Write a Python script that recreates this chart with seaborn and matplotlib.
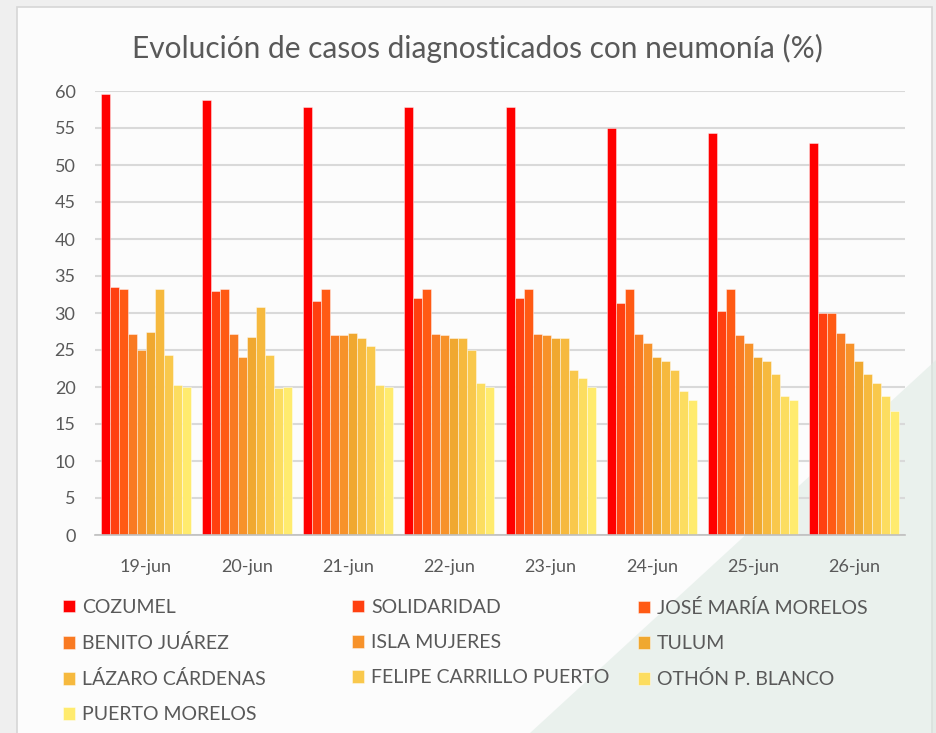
import pandas as pd
import matplotlib.pyplot as plt
import seaborn as sns
from matplotlib.patches import Rectangle, Polygon

fechas = ['19-jun', '20-jun', '21-jun', '22-jun', '23-jun', '24-jun', '25-jun', '26-jun']
municipios = ['COZUMEL', 'SOLIDARIDAD', 'JOSÉ MARÍA MORELOS', 'BENITO JUÁREZ', 'ISLA MUJERES',
              'TULUM', 'LÁZARO CÁRDENAS', 'FELIPE CARRILLO PUERTO', 'OTHÓN P. BLANCO', 'PUERTO MORELOS']

cozumel = [59.6, 58.8, 57.9, 57.9, 57.9, 55.0, 54.3, 53.0]
solidaridad = [33.5, 33.0, 31.6, 32.0, 32.0, 31.3, 30.3, 30.0]
jose_maria_morelos = [33.3, 33.3, 33.3, 33.3, 33.3, 33.3, 33.3, 30.0]
benito_juarez = [27.1, 27.1, 27.0, 27.1, 27.1, 27.1, 27.0, 27.3]
isla_mujeres = [25.0, 24.0, 27.0, 27.0, 27.0, 25.9, 26.0, 26.0]
tulum = [27.5, 26.8, 27.3, 26.6, 26.6, 24.0, 24.0, 23.5]
lazaro_cardenas = [33.3, 30.8, 26.6, 26.6, 26.6, 23.5, 23.5, 21.7]
felipe_carrillo_puerto = [24.3, 24.3, 25.6, 25.0, 22.3, 22.3, 21.7, 20.5]
othon_p_blanco = [20.3, 19.9, 20.3, 20.6, 21.2, 19.4, 18.8, 18.8]
puerto_morelos = [20.0, 20.0, 20.0, 20.0, 20.0, 18.3, 18.3, 16.7]

series = [cozumel, solidaridad, jose_maria_morelos, benito_juarez, isla_mujeres,
          tulum, lazaro_cardenas, felipe_carrillo_puerto, othon_p_blanco, puerto_morelos]

colores = ['#FF0000', '#FF4010', '#FF5A14', '#F97A22', '#F7922A',
           '#F0A830', '#F6B93E', '#F9C84C', '#FCDD60', '#FFEB6E']

rows = []
for nombre, valores in zip(municipios, series):
    for fecha, v in zip(fechas, valores):
        rows.append({'fecha': fecha, 'municipio': nombre, 'valor': v})
df = pd.DataFrame(rows)

sns.set_style('white')
plt.rcParams['font.family'] = ['Lato', 'DejaVu Sans']

fig = plt.figure(figsize=(9.36, 7.33), dpi=100, facecolor='#EFEFEF')

# panel background, drawn behind the axes
fig.patches.append(Rectangle((17 / 936, -0.01), 915 / 936, 1.01 - 7 / 733, transform=fig.transFigure,
                             facecolor='#FCFCFC', edgecolor='#D6D6D6', lw=1.2, zorder=-2))
fig.patches.append(Polygon([(1.0, 1 - 360 / 733), (1.0, 0), (530 / 936, 0)], closed=True,
                           transform=fig.transFigure, facecolor='#DCE9E2', alpha=0.55,
                           edgecolor='none', zorder=-1))

ax = fig.add_axes([95 / 936, 1 - 535 / 733, 810 / 936, 444 / 733])
ax.set_facecolor('none')

sns.barplot(data=df, x='fecha', y='valor', hue='municipio', hue_order=municipios,
            palette=colores, width=0.89, gap=0, ax=ax, errorbar=None, saturation=1,
            linewidth=0.6, edgecolor='#FFFFFF80')

ax.set_ylim(0, 60)
ax.set_yticks(range(0, 61, 5))
ax.yaxis.grid(True, color='#D9D9D9', lw=1.5)
ax.set_axisbelow(True)
ax.set_xlim(-0.5, len(fechas) - 0.5)
for s in ['top', 'right', 'left']:
    ax.spines[s].set_visible(False)
ax.spines['bottom'].set_color('#BFBFBF')
ax.spines['bottom'].set_linewidth(1.2)
ax.set_xlabel('')
ax.set_ylabel('')
ax.tick_params(axis='y', length=0, labelsize=13, labelcolor='#595959', pad=14)
ax.tick_params(axis='x', length=0, labelsize=13, labelcolor='#595959', pad=17)
ax.set_xticks([i + 0.5 for i in range(-1, len(fechas))], minor=True)
ax.tick_params(axis='x', which='minor', length=6, color='#BFBFBF', width=1.2)

fig.text(0.51, 1 - 48 / 733, 'Evolución de casos diagnosticados con neumonía (%)',
         ha='center', va='center', fontsize=21.5, color='#595959')

handles, labels = ax.get_legend_handles_labels()
ax.get_legend().remove()
col_x = [63 / 936, 352 / 936, 638 / 936]
for c in range(3):
    idx = list(range(c, len(labels), 3))
    fig.legend([handles[i] for i in idx], [labels[i] for i in idx],
               loc='upper left', bbox_to_anchor=(col_x[c], 1 - 599 / 733),
               frameon=False, fontsize=14, labelcolor='#595959',
               handlelength=0.62, handleheight=0.62, handletextpad=0.36,
               labelspacing=0.93, borderpad=0, borderaxespad=0)

fig.savefig('out.png', dpi=100, facecolor=fig.get_facecolor())
